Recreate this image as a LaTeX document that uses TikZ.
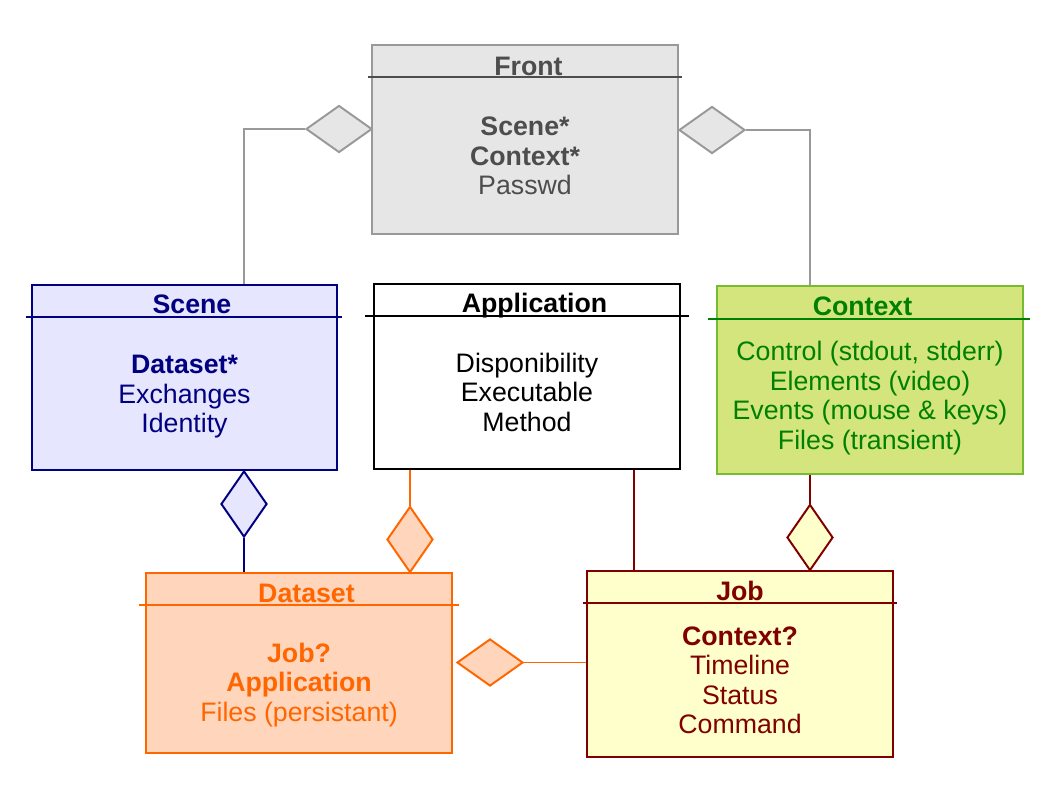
\documentclass[tikz,border=0pt]{standalone}
\usepackage{fontspec}
\setmainfont{Liberation Sans}
\usetikzlibrary{shapes.geometric,calc}
\definecolor{frontfill}{HTML}{E6E6E6}
\definecolor{frontline}{HTML}{999999}
\definecolor{fronttext}{HTML}{4D4D4D}
\definecolor{scenefill}{HTML}{E6E6FF}
\definecolor{sceneline}{HTML}{000080}
\definecolor{contextfill}{HTML}{D5E57D}
\definecolor{contextline}{HTML}{77BB33}
\definecolor{contexttext}{HTML}{008000}
\definecolor{datasetfill}{HTML}{FFD5BC}
\definecolor{datasetline}{HTML}{FF6600}
\definecolor{jobfill}{HTML}{FFFFCC}
\definecolor{jobline}{HTML}{800000}

\begin{document}
\begin{tikzpicture}[x=0.025cm, y=-0.025cm, line width=1.4pt,
  font=\fontsize{19}{21}\selectfont,
  box/.style = {draw, rectangle, minimum width=7.65cm, inner sep=0},
  hdiam/.style = {draw, diamond, inner sep=0, minimum width=1.65cm, minimum height=1.175cm},
  vdiam/.style = {draw, diamond, inner sep=0, minimum width=1.15cm, minimum height=1.65cm},
  title/.style = {font=\fontsize{19}{21}\selectfont\bfseries, anchor=base, inner sep=0},
  body/.style = {align=center, inner sep=0}]
	\useasboundingbox (0,0) rectangle (1058,794);
	\node[box, draw=frontline, fill=frontfill, minimum height=4.725cm] (front) at (525,139.5){};
	\node[title, text=fronttext] (fronttitle) at ($(front.north)+(3.5,31.5)$){Front};
	\draw[fronttext] ($(front.north west)+(-3,33)$) -- ($(front.north east)+(3,33)$);
	\node[body, text=fronttext] (frontbody) at ($(front.center)+(0,16.5)$){\textbf{Scene*}\\\textbf{Context*}\\Passwd};
	\node[box, draw=sceneline, fill=scenefill, minimum height=4.625cm, minimum width=7.625cm] (scene) at (184.5,377.5){};
	\node[title, text=sceneline] (scenetitle) at ($(scene.north)+(7.5,29.5)$){Scene};
	\draw[sceneline] ($(scene.north west)+(-5,33)$) -- ($(scene.north east)+(4,33)$);
	\node[body, text=sceneline] (scenebody) at ($(scene.center)+(0,19.5)$){\textbf{Dataset*}\\Exchanges\\Identity};
	\node[box, draw=black, fill=white, minimum height=4.625cm] (appl) at (527,376.5){};
	\node[title] (appltitle) at ($(appl.north)+(7.5,29.5)$){Application};
	\draw ($(appl.north west)+(-8,33)$) -- ($(appl.north east)+(8,33)$);
	\node[body] (applbody) at ($(appl.center)+(0,15.5)$){Disponibility\\Executable\\Method};
	\node[box, draw=contextline, fill=contextfill, minimum height=4.7cm] (context) at (870,380){};
	\node[title, text=contexttext] (contexttitle) at ($(context.north)+(-7.5,30.5)$){Context};
	\draw[contexttext] ($(context.north west)+(-8,34)$) -- ($(context.north east)+(6,34)$);
	\node[body, text=contexttext] (contextbody) at ($(context.center)+(0,18)$){Control (stdout, stderr)\\Elements (video)\\Events (mouse \& keys)\\Files (transient)};
	\node[box, draw=datasetline, fill=datasetfill, minimum height=4.5cm] (dataset) at (299,663){};
	\node[title, text=datasetline] (datasettitle) at ($(dataset.north)+(7.5,30.5)$){Dataset};
	\draw[datasetline] ($(dataset.north west)+(-6,33)$) -- ($(dataset.north east)+(6,33)$);
	\node[body, text=datasetline] (datasetbody) at ($(dataset.center)+(0,22)$){\textbf{Job?}\\\textbf{Application}\\Files (persistant)};
	\node[box, draw=jobline, fill=jobfill, minimum height=4.65cm] (job) at (740,664){};
	\node[title, text=jobline] (jobtitle) at ($(job.north)+(0,30.5)$){Job};
	\draw[jobline] ($(job.north west)+(-3,33)$) -- ($(job.north east)+(3,33)$);
	\node[body, text=jobline] (jobbody) at ($(job.center)+(0,16.5)$){\textbf{Context?}\\Timeline\\Status\\Command};
	\node[hdiam, draw=frontline, fill=frontfill] (fsd) at (339,129){};
	\node[hdiam, draw=frontline, fill=frontfill] (fcd) at (712,130){};
	\node[vdiam, draw=sceneline, fill=scenefill] (sdd) at (244,504){};
	\node[vdiam, draw=datasetline, fill=datasetfill] (add) at (410,539.5){};
	\node[vdiam, draw=jobline, fill=jobfill] (cjd) at (810,537.5){};
	\node[hdiam, draw=datasetline, fill=datasetfill] (jdd) at (490,662.5){};
	\draw[frontline] (fsd.west) -| (sdd |- scene.north);
	\draw[frontline] (fcd.east) -| (cjd |- context.north);
	\draw[sceneline] (sdd.south) -- (sdd |- dataset.north);
	\draw[datasetline] (add |- appl.south) -- (add.north);
	\draw[jobline] ($(appl.south)+(107,0)$) -- ($(job.north)+(-106,0)$);
	\draw[jobline] (cjd |- context.south) -- (cjd.north);
	\draw[datasetline] (jdd.east) -- (jdd -| job.west);
\end{tikzpicture}
\end{document}
